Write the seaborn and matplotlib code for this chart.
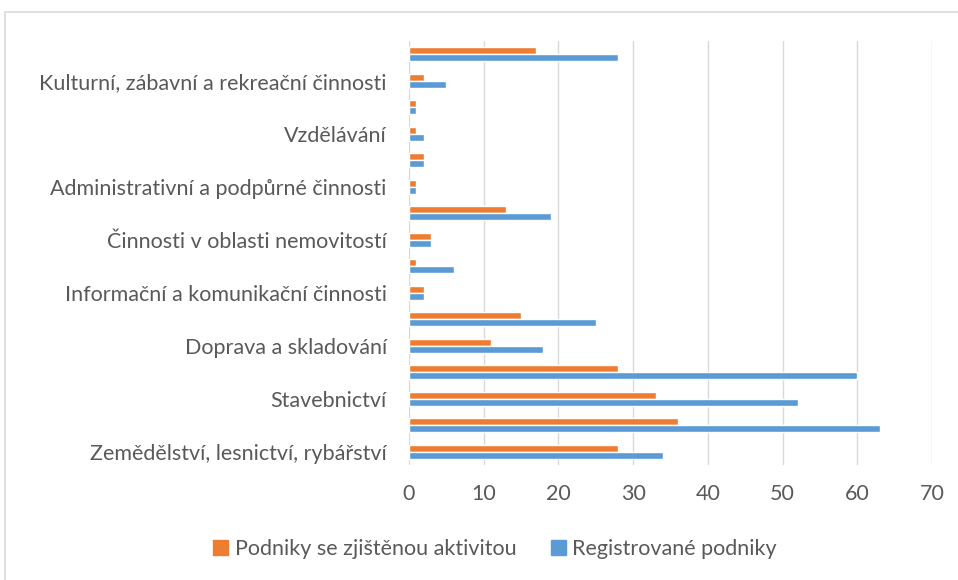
import matplotlib
matplotlib.use('Agg')
import matplotlib.pyplot as plt
import matplotlib.patches as mpatches
import seaborn as sns
import pandas as pd

# Data (top to bottom as drawn)
CATEGORIES = [
    'Ostatní činnosti',
    'Kulturní, zábavní a rekreační činnosti',
    'Zdravotní a sociální péče',
    'Vzdělávání',
    'Veřejná správa a obrana',
    'Administrativní a podpůrné činnosti',
    'Profesní, vědecké a technické činnosti',
    'Činnosti v oblasti nemovitostí',
    'Peněžnictví a pojišťovnictví',
    'Informační a komunikační činnosti',
    'Ubytování, stravování a pohostinství',
    'Doprava a skladování',
    'Velkoobchod a maloobchod',
    'Stavebnictví',
    'Zpracovatelský průmysl',
    'Zemědělství, lesnictví, rybářství',
]
AKTIVNI = [17, 2, 1, 1, 2, 1, 13, 3, 1, 2, 15, 11, 28, 33, 36, 28]
REGISTROVANE = [28, 5, 1, 2, 2, 1, 19, 3, 6, 2, 25, 18, 60, 52, 63, 34]
SERIES = ['Podniky se zjištěnou aktivitou', 'Registrované podniky']
COLORS = ['#ED7D31', '#5B9BD5']
X_TICKS = list(range(0, 71, 10))

TEXT = '#595959'
GRID = '#D9D9D9'
FS = 15.5

df = pd.DataFrame({
    'kategorie': CATEGORIES * 2,
    'pocet': AKTIVNI + REGISTROVANE,
    'serie': [SERIES[0]] * len(CATEGORIES) + [SERIES[1]] * len(CATEGORIES),
})

sns.set_style('white')
plt.rcParams['font.family'] = ['Lato', 'DejaVu Sans']

W, H = 958, 580
fig = plt.figure(figsize=(W / 100, H / 100), dpi=100)
ax = fig.add_axes([409 / W, 1 - 465 / H, (932 - 409) / W, (465 - 41) / H])

sns.barplot(data=df, y='kategorie', x='pocet', hue='serie',
            hue_order=SERIES, palette=COLORS, order=CATEGORIES,
            orient='h', width=0.53, dodge=True, ax=ax, legend=False,
            saturation=1)

ax.set_xlim(0, 70)
ax.set_xticks(X_TICKS)
ax.set_ylim(len(CATEGORIES) - 0.5, -0.5)
ax.set_yticks(range(len(CATEGORIES)))
ax.set_yticklabels([c if i % 2 == 1 else '' for i, c in enumerate(CATEGORIES)])
ax.tick_params(axis='both', length=0, labelsize=FS, colors=TEXT)
ax.tick_params(axis='y', pad=16)
ax.tick_params(axis='x', pad=14)
ax.set_xlabel('')
ax.set_ylabel('')
ax.xaxis.grid(True, color=GRID, linewidth=1)
ax.set_axisbelow(True)
for s in ax.spines.values():
    s.set_visible(False)

# Legend
handles = [mpatches.Patch(color=c, label=l) for c, l in zip(COLORS, SERIES)]
fig.legend(handles=handles, loc='center', bbox_to_anchor=(495 / W, 1 - 549 / H),
           ncol=2, frameon=False, fontsize=FS, handlelength=0.7,
           handleheight=0.7, handletextpad=0.3, columnspacing=1.6,
           labelcolor=TEXT)

# Chart area border
fig.add_artist(mpatches.Rectangle((5 / W, -0.1), 1.1, 1.1 - 12 / H,
                                  transform=fig.transFigure, fill=False,
                                  edgecolor=GRID, linewidth=1.2))

fig.savefig('out.png', dpi=100, facecolor='white')
